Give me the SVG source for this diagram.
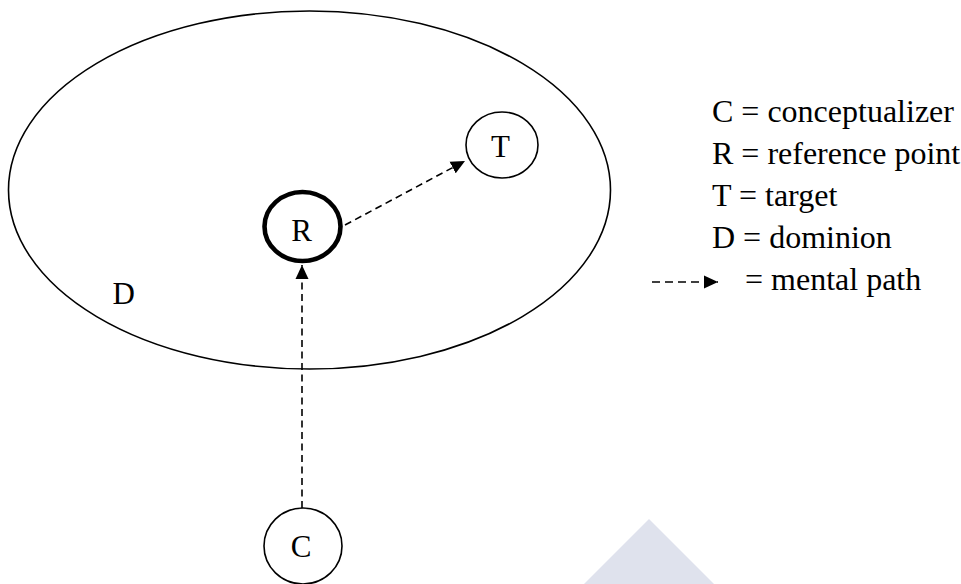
<svg xmlns="http://www.w3.org/2000/svg" width="961" height="584" viewBox="0 0 961 584">
<style>
.txt{font-family:"Liberation Serif","Times New Roman",serif;fill:#000}
.node{font-size:31px;text-anchor:middle}
.leg{font-size:32px}
.thin{fill:none;stroke:#000;stroke-width:1.6}
.dash{fill:none;stroke:#000;stroke-width:1.6;stroke-dasharray:7 4.5}
</style>
<defs>
<marker id="arr" markerUnits="userSpaceOnUse" markerWidth="15" markerHeight="14" refX="14" refY="7" orient="auto" viewBox="0 0 15 14">
<path d="M0,0.5 L14,7 L0,13.5 z" fill="#000"/>
</marker>
</defs>
<rect width="961" height="584" fill="#fff"/>
<polygon points="649,519 714,584 584,584" fill="#dfe2ed"/>
<g id="dominion">
<ellipse cx="309.5" cy="190" rx="301" ry="179" class="thin"/>
<text x="112.5" y="304" class="txt" font-size="31">D</text>
</g>
<g id="connectors">
<line x1="345" y1="225" x2="465" y2="161" class="dash" marker-end="url(#arr)"/>
<line x1="302" y1="508" x2="302" y2="265" class="dash" marker-end="url(#arr)"/>
</g>
<g id="R">
<ellipse cx="302.5" cy="226.5" rx="38" ry="34.5" fill="none" stroke="#000" stroke-width="4.6"/>
<text x="301.5" y="241" class="txt node">R</text>
</g>
<g id="T">
<ellipse cx="502" cy="145" rx="36" ry="33" class="thin"/>
<text x="500.5" y="157" class="txt node">T</text>
</g>
<g id="C">
<ellipse cx="303" cy="546" rx="39" ry="38" class="thin"/>
<text x="301" y="557" class="txt node">C</text>
</g>
<g id="legend">
<text x="712" y="122" class="txt leg">C = conceptualizer</text>
<text x="712" y="164" class="txt leg">R = reference point</text>
<text x="712" y="206" class="txt leg">T = target</text>
<text x="712" y="248" class="txt leg">D = dominion</text>
<line x1="652" y1="282" x2="718" y2="282" class="dash" style="stroke-dasharray:8 5" marker-end="url(#arr)"/>
<text x="745" y="290" class="txt leg">= mental path</text>
</g>
</svg>
